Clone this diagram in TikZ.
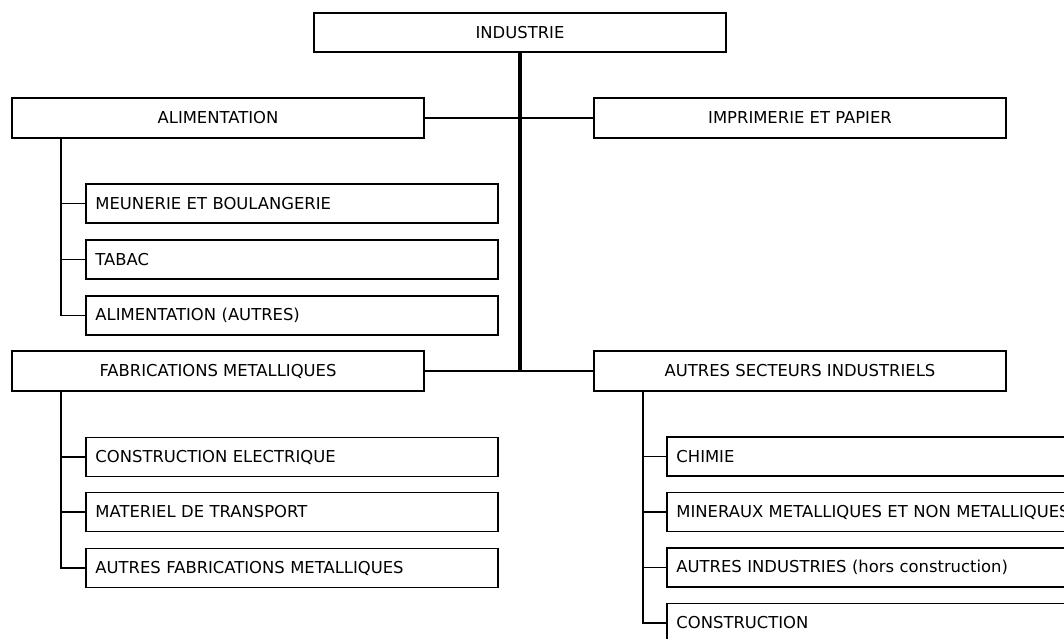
\documentclass[tikz,border=0pt]{standalone}
\usepackage{fontspec}
\setmainfont{DejaVu Sans}
\usepackage{tikz}
\usetikzlibrary{positioning}
\usetikzlibrary{calc}

\tikzstyle{mainbox}=[draw, line width=1.3pt, minimum width=309.5pt, minimum height=29.5pt, inner sep=0pt, font=\fontsize{12.3}{14}\selectfont]
\tikzstyle{subbox}=[draw, line width=1.3pt, text width=294.75pt, inner xsep=7.2pt, inner ysep=0pt, minimum height=29.25pt, align=left, font=\fontsize{12.3}{14}\selectfont]
\tikzstyle{widesubbox}=[subbox, text width=310pt]
\tikzstyle{link}=[line width=1.4pt]
\tikzstyle{trunk}=[line width=2.3pt]

\begin{document}
\begin{tikzpicture}[x=0.75pt, y=-0.75pt]
    \useasboundingbox (0,0) rectangle (1064,639);

    \node[mainbox] at (520, 32.5) (Industrie)    {INDUSTRIE};
    \node[mainbox] at (218, 118 ) (Alimentation) {ALIMENTATION};
    \node[mainbox] at (800, 118 ) (Imprimerie)   {IMPRIMERIE ET PAPIER};
    \node[mainbox] at (218, 371 ) (Fabrications) {FABRICATIONS METALLIQUES};
    \node[mainbox] at (800, 371 ) (Autres)       {AUTRES SECTEURS INDUSTRIELS};

    \node[subbox, anchor=west] at (85, 203.5) (Meunerie)   {MEUNERIE ET BOULANGERIE};
    \node[subbox, anchor=west] at (85, 259.5) (Tabac)      {TABAC};
    \node[subbox, anchor=west] at (85, 315.5) (AlimAutres) {ALIMENTATION (AUTRES)};

    \node[subbox, anchor=west] at (85, 457  ) (Electrique) {CONSTRUCTION ELECTRIQUE};
    \node[subbox, anchor=west] at (85, 512  ) (Transport)  {MATERIEL DE TRANSPORT};
    \node[subbox, anchor=west] at (85, 568  ) (FabAutres)  {AUTRES FABRICATIONS METALLIQUES};

    \node[widesubbox, anchor=west] at (666, 456.5) (Chimie)       {CHIMIE};
    \node[widesubbox, anchor=west] at (666, 512  ) (Mineraux)     {MINERAUX METALLIQUES ET NON METALLIQUES};
    \node[widesubbox, anchor=west] at (666, 567.5) (IndAutres)    {AUTRES INDUSTRIES (hors construction)};
    \node[widesubbox, anchor=west] at (666, 623  ) (Construction) {CONSTRUCTION};

    \coordinate (Junction) at (Industrie.south |- Fabrications.east);
    \draw[trunk] (Industrie.south) -- (Junction);
    \draw[link] (Alimentation) -- (Imprimerie);
    \draw[link] (Fabrications) -- (Autres);

    \foreach \kid in {Meunerie, Tabac, AlimAutres}
        \draw[link] ([xshift=37.5pt]Alimentation.south west) |- (\kid.west);
    \foreach \kid in {Electrique, Transport, FabAutres}
        \draw[link] ([xshift=37.5pt]Fabrications.south west) |- (\kid.west);
    \foreach \kid in {Chimie, Mineraux, IndAutres, Construction}
        \draw[link] ([xshift=37.5pt]Autres.south west) |- (\kid.west);	% branch 50px in from the left edge
\end{tikzpicture}
\end{document}
